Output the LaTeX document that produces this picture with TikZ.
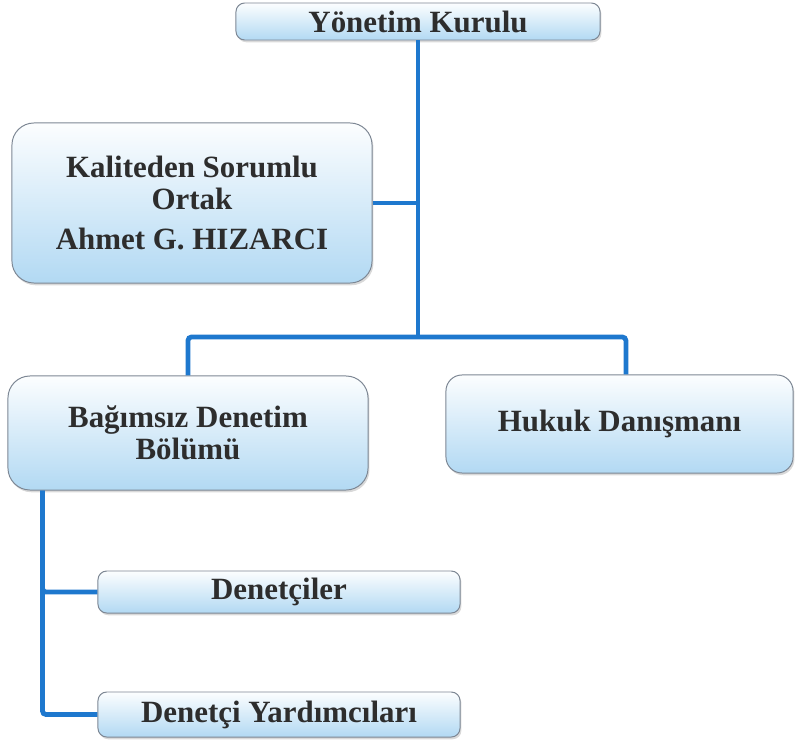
\documentclass[tikz,border=0pt]{standalone}
\usepackage{fontspec}
\setmainfont{Liberation Serif}
\usetikzlibrary{shadows}
\definecolor{linkblue}{RGB}{30,120,206}
\definecolor{boxblue}{RGB}{178,217,243}
\definecolor{boxedge}{RGB}{125,135,148}
\definecolor{textgray}{RGB}{45,45,45}
\begin{document}
\begin{tikzpicture}[x=0.025cm, y=-0.025cm,
orgnode/.style={rectangle, draw=boxedge, line width=0.7pt, top color=white!96!boxblue, bottom color=boxblue, inner sep=0pt, align=center, text=textgray, font=\fontsize{22}{22.8}\selectfont\bfseries, drop shadow={shadow xshift=1pt, shadow yshift=-1.6pt, opacity=0.3}},
bignode/.style={orgnode, rounded corners=0.55cm},
smallnode/.style={orgnode, rounded corners=0.22cm},
link/.style={draw=linkblue, line width=3.4pt, rounded corners=2.5pt},
]
    \useasboundingbox (0,0) rectangle (797,742);
    \node[smallnode, minimum width=9.1cm, minimum height=0.925cm] (board) at (418,21.5) {Yönetim Kurulu};
    \node[bignode, minimum width=9cm, minimum height=4cm] (quality) at (192,203) {Kaliteden Sorumlu\\Ortak\\[5pt]Ahmet G. HIZARCI};
    \node[bignode, minimum width=9cm, minimum height=2.85cm] (audit) at (188,433) {Bağımsız Denetim\\Bölümü};
    \node[bignode, rounded corners=0.4cm, minimum width=8.675cm, minimum height=2.45cm] (legal) at (619.5,424) {Hukuk Danışmanı};
    \node[smallnode, minimum width=9.05cm, minimum height=1.05cm] (auditors) at (279,592) {Denetçiler};
    \node[smallnode, minimum width=9.05cm, minimum height=1.125cm] (assistants) at (279,714.5) {Denetçi Yardımcıları};
    \coordinate (split) at (418,337);
    \draw[link] (board.south) -- (split);
    \draw[link] (quality.east) -- (quality.east -| board.south);
    \draw[link] (audit.north) |- (split) -| ([xshift=0.16cm]legal.north);
    \draw[link] ([xshift=0.875cm]audit.south west) |- (auditors.west);
    \draw[link] ([xshift=0.875cm]audit.south west) |- (assistants.west);
\end{tikzpicture}
\end{document}
